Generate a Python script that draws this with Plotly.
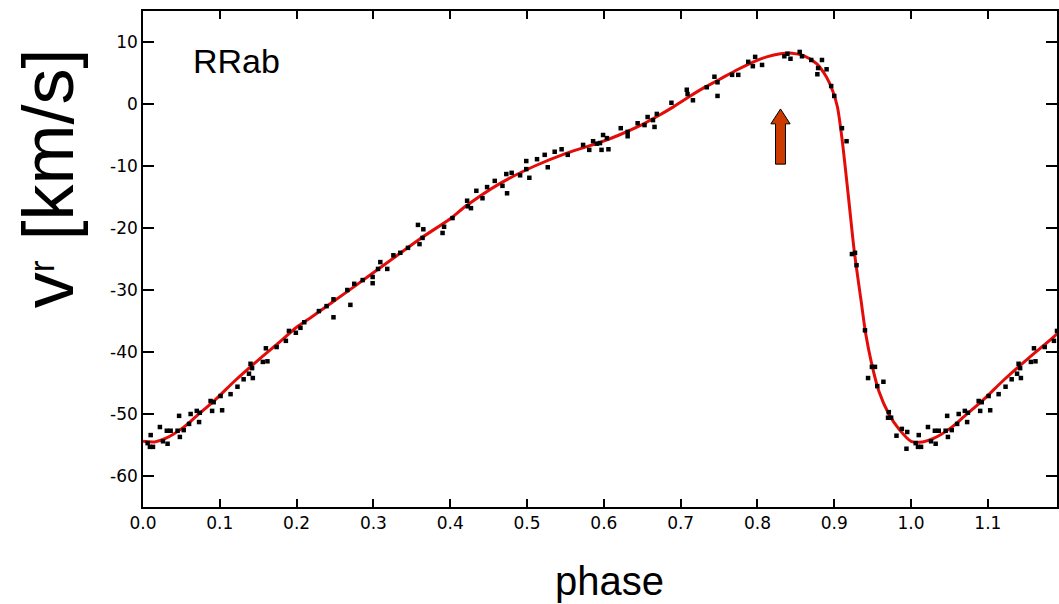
import plotly.graph_objects as go

# ---- fitted velocity curve (one pulsation cycle), phase -> v_r [km/s]
fit_phase = [0.000, 0.015, 0.030, 0.050, 0.070, 0.095, 0.120, 0.150, 0.175, 0.200,
             0.220, 0.270, 0.320, 0.360, 0.400, 0.420, 0.465, 0.510, 0.550, 0.595,
             0.620, 0.647, 0.668, 0.690, 0.710, 0.730, 0.751, 0.775, 0.795, 0.812,
             0.830, 0.845, 0.860, 0.877, 0.890, 0.898, 0.904, 0.910, 0.919, 0.926,
             0.935, 0.941, 0.948, 0.958, 0.971, 0.984]
fit_vr = [-54.4, -54.5, -53.9, -52.4, -50.3, -47.6, -44.6, -41.3, -38.7, -36.0,
          -34.3, -29.9, -25.4, -21.8, -18.5, -16.5, -12.8, -10.0, -8.0, -6.2,
          -5.0, -3.5, -2.1, -0.5, 1.1, 2.6, 4.0, 5.6, 6.8, 7.6,
          8.1, 8.2, 7.8, 6.5, 4.3, 2.1, -0.4, -5.5, -15.6, -23.7,
          -31.8, -37.1, -41.5, -46.3, -50.0, -52.4]

# ---- measured radial velocities (one cycle)
obs_phase = [0.006, 0.009, 0.010, 0.013, 0.022, 0.026, 0.031, 0.032, 0.036, 0.045,
             0.047, 0.048, 0.053, 0.060, 0.062, 0.070, 0.073, 0.074, 0.088, 0.090,
             0.092, 0.101, 0.103, 0.114, 0.123, 0.131, 0.138, 0.143, 0.140, 0.142,
             0.156, 0.162, 0.160, 0.174, 0.186, 0.190, 0.199, 0.205, 0.210, 0.229,
             0.239, 0.248, 0.248, 0.266, 0.270, 0.275, 0.286, 0.299, 0.299, 0.306,
             0.309, 0.318, 0.326, 0.335, 0.345, 0.358, 0.360, 0.365, 0.364, 0.390,
             0.392, 0.403, 0.422, 0.423, 0.427, 0.434, 0.442, 0.448, 0.458, 0.468,
             0.474, 0.473, 0.480, 0.491, 0.499, 0.499, 0.503, 0.513, 0.523, 0.527,
             0.536, 0.545, 0.553, 0.573, 0.581, 0.586, 0.591, 0.595, 0.599, 0.604,
             0.597, 0.606, 0.622, 0.631, 0.631, 0.644, 0.653, 0.657, 0.664, 0.669,
             0.666, 0.688, 0.708, 0.709, 0.716, 0.734, 0.744, 0.748, 0.748, 0.767,
             0.775, 0.788, 0.794, 0.797, 0.806, 0.835, 0.839, 0.843, 0.855, 0.858,
             0.870, 0.884, 0.879, 0.890, 0.878, 0.896, 0.900, 0.910, 0.916, 0.923,
             0.927, 0.929, 0.940, 0.944, 0.949, 0.953, 0.956, 0.964, 0.970, 0.971,
             0.974, 0.981, 0.988, 0.994, 0.995]
obs_vr = [-54.7, -55.3, -53.4, -55.3, -52.1, -54.4, -52.7, -54.8, -52.7, -52.7,
          -50.3, -53.7, -52.6, -51.6, -50.0, -49.5, -51.3, -49.8, -47.9, -49.5,
          -48.1, -47.1, -49.4, -46.8, -45.6, -44.4, -43.5, -44.2, -41.9, -42.6,
          -41.6, -41.5, -39.4, -39.2, -38.2, -36.6, -36.9, -36.1, -35.2, -33.4,
          -32.6, -31.5, -34.4, -30.0, -32.4, -29.0, -28.4, -27.9, -28.9, -26.6,
          -25.5, -26.6, -24.4, -24.0, -23.2, -19.5, -22.6, -20.2, -21.6, -20.8,
          -19.8, -18.4, -15.6, -16.5, -16.8, -14.0, -15.2, -13.4, -12.4, -13.2,
          -14.4, -11.3, -11.1, -11.5, -9.2, -10.5, -11.9, -8.9, -8.2, -10.2,
          -7.7, -7.3, -8.2, -6.6, -7.4, -6.0, -6.4, -6.3, -5.0, -5.5,
          -7.4, -7.3, -3.9, -4.5, -5.2, -3.1, -3.4, -2.1, -2.6, -1.6,
          -3.7, 0.2, 2.3, 1.6, 0.6, 2.7, 4.4, 3.5, 1.3, 4.7,
          4.7, 6.8, 6.1, 7.6, 6.3, 7.7, 8.1, 7.3, 8.4, 7.7,
          7.1, 7.1, 5.8, 5.6, 4.8, 2.9, 1.3, -3.9, -6.0, -24.2,
          -24.0, -26.0, -36.5, -44.2, -42.4, -42.4, -45.5, -44.8, -50.6, -49.7,
          -50.6, -53.5, -52.4, -55.6, -52.9]

X_MAX = 1.19          # shown phase range [0, X_MAX]; cycle repeated beyond 1
Y_RANGE = [-65, 15]
X_TICKS = [0.0, 0.1, 0.2, 0.3, 0.4, 0.5, 0.6, 0.7, 0.8, 0.9, 1.0, 1.1]
X_TICK_TEXT = ["0.0", "0.1", "0.2", "0.3", "0.4", "0.5", "0.6", "0.7", "0.8", "0.9", "1.0", "1.1"]
Y_TICKS = [-60, -50, -40, -30, -20, -10, 0, 10]
Y_TICK_TEXT = ["-60", "-50", "-40", "-30", "-20", "-10", "0", "10"]

# arrow marker (data coords)
ARROW_PHASE = 0.83
ARROW_TIP = -0.8
ARROW_HEAD_BASE = -3.2
ARROW_TAIL = -9.7
ARROW_HEAD_HALF = 0.0125
ARROW_SHAFT_HALF = 0.0065

# repeat the cycle past phase 1
curve_x = fit_phase + [p + 1 for p in fit_phase if p + 1 <= X_MAX + 0.02]
curve_y = fit_vr + [v for p, v in zip(fit_phase, fit_vr) if p + 1 <= X_MAX + 0.02]
pts_x = obs_phase + [p + 1 for p in obs_phase if p + 1 <= X_MAX]
pts_y = obs_vr + [v for p, v in zip(obs_phase, obs_vr) if p + 1 <= X_MAX]

fig = go.Figure()
fig.add_trace(go.Scatter(x=curve_x, y=curve_y, mode="lines",
                         line=dict(color="rgb(228,12,8)", width=3, shape="spline", smoothing=0.8),
                         hoverinfo="skip", showlegend=False))
fig.add_trace(go.Scatter(x=pts_x, y=pts_y, mode="markers",
                         marker=dict(symbol="square", size=4.5, color="black", line=dict(width=0)),
                         showlegend=False))

a = ARROW_PHASE
path = (f"M {a},{ARROW_TIP} L {a + ARROW_HEAD_HALF},{ARROW_HEAD_BASE} "
        f"L {a + ARROW_SHAFT_HALF},{ARROW_HEAD_BASE} L {a + ARROW_SHAFT_HALF},{ARROW_TAIL} "
        f"L {a - ARROW_SHAFT_HALF},{ARROW_TAIL} L {a - ARROW_SHAFT_HALF},{ARROW_HEAD_BASE} "
        f"L {a - ARROW_HEAD_HALF},{ARROW_HEAD_BASE} Z")
fig.add_shape(type="path", path=path, xref="x", yref="y",
              fillcolor="#CC3A00", line=dict(color="black", width=1))

axis_common = dict(showline=True, linecolor="black", linewidth=1.5, mirror="ticks",
                   ticks="inside", tickcolor="black", tickwidth=1.5,
                   showgrid=False, zeroline=False,
                   tickfont=dict(family="DejaVu Sans", size=17, color="black"))

fig.update_layout(
    width=1059, height=604,
    margin=dict(l=143, r=0, t=11, b=97),
    paper_bgcolor="white", plot_bgcolor="white",
    xaxis=dict(range=[0, X_MAX], tickvals=X_TICKS, ticktext=X_TICK_TEXT, ticklen=8, **axis_common),
    yaxis=dict(range=Y_RANGE, tickvals=Y_TICKS, ticktext=Y_TICK_TEXT, ticklen=11, **axis_common),
    annotations=[
        dict(text="RRab", xref="paper", yref="paper", x=0.1026, y=0.899,
             xanchor="center", yanchor="middle", showarrow=False,
             font=dict(family="Liberation Sans, Arial", size=34, color="black")),
        dict(text="phase", xref="paper", yref="paper", x=0.51, y=-0.149,
             xanchor="center", yanchor="middle", showarrow=False,
             font=dict(family="Liberation Sans, Arial", size=40, color="black")),
        dict(text="v<sup><sub>r</sub></sup> [km/s]", xref="paper", yref="paper",
             x=(48 - 143) / 916, y=(507 - 178) / 496, textangle=-90,
             xanchor="center", yanchor="middle", showarrow=False,
             font=dict(family="Liberation Sans, Arial", size=72, color="black")),
    ],
)

fig.write_html("out.html")
